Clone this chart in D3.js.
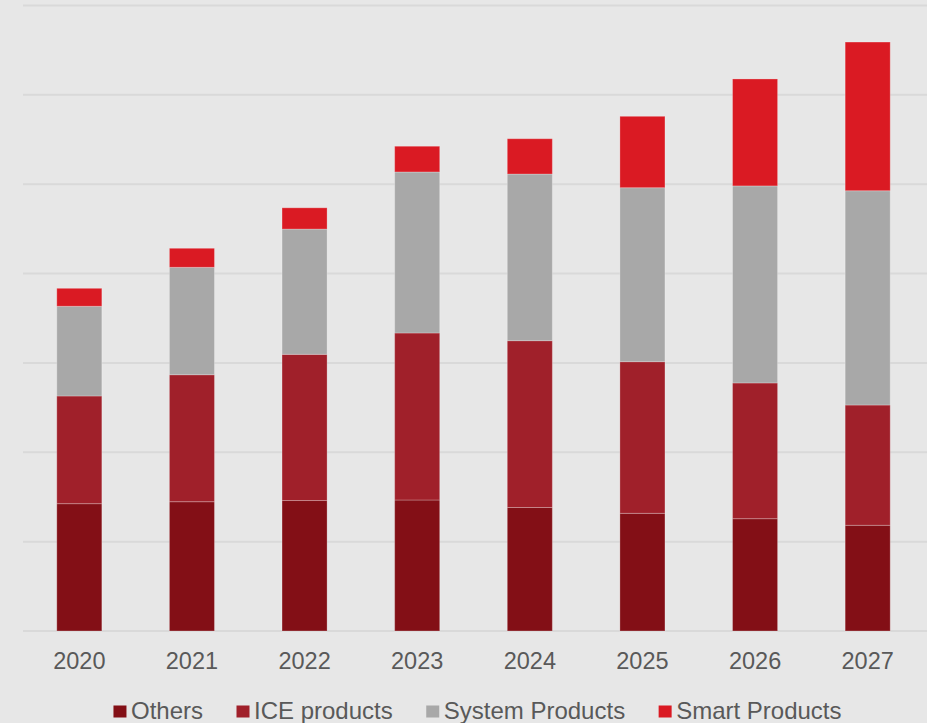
<!DOCTYPE html>
<html lang="en">
<head>
    <meta charset="UTF-8">
    <title>Products by year</title>
    <script src="https://d3js.org/d3.v7.min.js"></script>
    <style>
        html, body { margin: 0; padding: 0; background: #e7e7e7; }
        svg { display: block; }
        .tick-label, .legend-label {
            font-family: "Liberation Sans", Arial, sans-serif;
            fill: #595959;
        }
    </style>
</head>
<body>
    <svg id="chart" width="927" height="723"></svg>
    <script>
        // data (one grid step = 10 units)
        const years = ["2020", "2021", "2022", "2023", "2024", "2025", "2026", "2027"];
        const seriesNames = ["Others", "ICE products", "System Products", "Smart Products"];
        const others = [14.25, 14.47, 14.6, 14.66, 13.82, 13.17, 12.57, 11.83];
        const iceProducts = [12.05, 14.21, 16.36, 18.69, 18.67, 16.97, 15.19, 13.46];
        const systemProducts = [10.04, 12.02, 14.02, 18.02, 18.65, 19.47, 22.05, 23.98];
        const smartProducts = [2.01, 2.13, 2.38, 2.88, 3.95, 7.99, 11.97, 16.64];
        const gridTicks = [0, 10, 20, 30, 40, 50, 60, 70];

        const colors = ["#830f16", "#a0202a", "#a8a8a8", "#da1a23"];

        const svg = d3.select("#chart");
        const width = 927, height = 723;

        svg.append("rect").attr("width", width).attr("height", height).attr("fill", "#e7e7e7");

        const rows = years.map((y, i) => ({
            year: y,
            "Others": others[i],
            "ICE products": iceProducts[i],
            "System Products": systemProducts[i],
            "Smart Products": smartProducts[i]
        }));

        const x = d3.scaleBand().domain(years).range([23, 924]).paddingInner(0.6).paddingOuter(0.3);
        const y = d3.scaleLinear().domain([0, 70]).range([631, 5.5]);

        // gridlines
        svg.append("g")
            .selectAll("line")
            .data(gridTicks)
            .join("line")
            .attr("x1", 23)
            .attr("x2", width)
            .attr("y1", d => y(d))
            .attr("y2", d => y(d))
            .attr("stroke", "#d9d9d9")
            .attr("stroke-width", 2);

        const stack = d3.stack().keys(seriesNames)(rows);

        svg.append("g")
            .selectAll("g")
            .data(stack)
            .join("g")
            .attr("fill", (d, i) => colors[i])
            .selectAll("rect")
            .data(d => d)
            .join("rect")
            .attr("x", d => x(d.data.year))
            .attr("width", x.bandwidth())
            .attr("y", d => y(d[1]))
            .attr("height", d => y(d[0]) - y(d[1]))
            .attr("stroke", "#ffffff")
            .attr("stroke-opacity", 0.25)
            .attr("stroke-width", 1);

        // x axis labels
        svg.append("g")
            .selectAll("text")
            .data(years)
            .join("text")
            .attr("class", "tick-label")
            .attr("x", d => x(d) + x.bandwidth() / 2)
            .attr("y", 668.5)
            .attr("text-anchor", "middle")
            .attr("font-size", "23.5px")
            .text(d => d);

        // legend
        const legend = svg.append("g");
        const items = legend.selectAll("g")
            .data(seriesNames)
            .join("g");
        items.append("rect")
            .attr("width", 13)
            .attr("height", 12)
            .attr("y", 705.5)
            .attr("fill", (d, i) => colors[i]);
        items.append("text")
            .attr("class", "legend-label")
            .attr("x", 17.5)
            .attr("y", 719.3)
            .attr("font-size", "24px")
            .text(d => d);

        let cx = 0;
        const offsets = [];
        items.each(function () {
            const w = this.querySelector("text").getComputedTextLength();
            offsets.push(cx);
            cx += 17.5 + w + 33.5;
        });
        const total = cx - 33.5;
        const start = 477.5 - total / 2;
        items.attr("transform", (d, i) => `translate(${start + offsets[i]},0)`);
    </script>
</body>
</html>
